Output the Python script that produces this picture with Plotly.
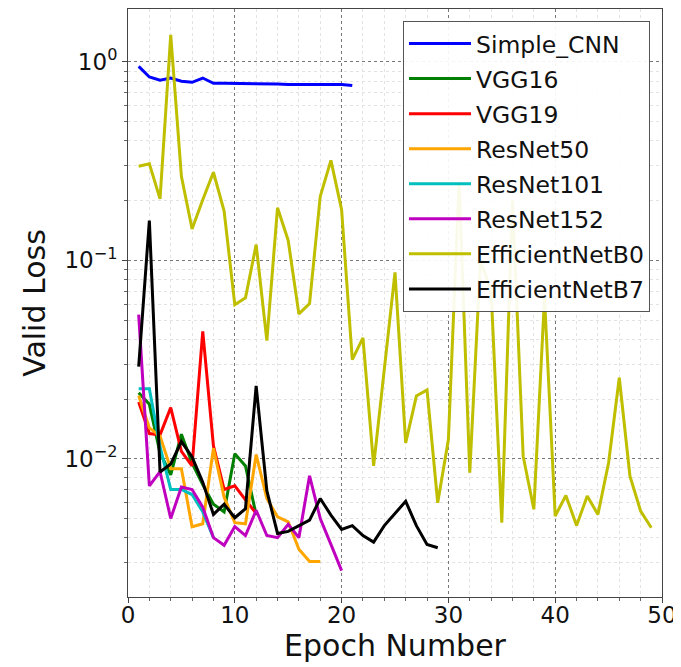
import plotly.graph_objects as go

simple_cnn = [0.95, 0.84, 0.81, 0.83, 0.80, 0.79, 0.83, 0.78, 0.78, 0.78, 0.78, 0.78,
              0.78, 0.775, 0.77, 0.77, 0.775, 0.775, 0.77, 0.77, 0.76]
vgg16 = [0.0215, 0.0188, 0.0107, 0.0083, 0.0133, 0.0095, 0.0074, 0.0059, 0.0054,
         0.0106, 0.0092, 0.0052]
vgg19 = [0.0193, 0.0134, 0.0132, 0.0181, 0.0109, 0.0092, 0.0439, 0.0116, 0.0070,
         0.0073, 0.0062, 0.0053]
resnet50 = [0.0208, 0.0143, 0.0130, 0.0089, 0.0089, 0.00454, 0.0047, 0.0113, 0.0064,
            0.00476, 0.0047, 0.0105, 0.0063, 0.0051, 0.0048, 0.0035, 0.00303, 0.00303]
resnet101 = [0.0225, 0.0225, 0.0115, 0.0070, 0.0070, 0.0066, 0.0054, 0.0040]
resnet152 = [0.0533, 0.0073, 0.0086, 0.0050, 0.0072, 0.0070, 0.0057, 0.0040, 0.00366,
             0.00455, 0.0041, 0.0055, 0.0041, 0.0040, 0.00467, 0.0040, 0.0082, 0.0050,
             0.0037, 0.00273]
effb0 = [0.298, 0.307, 0.204, 1.37, 0.265, 0.144, 0.202, 0.278, 0.177, 0.0598,
         0.0647, 0.120, 0.0394, 0.184, 0.126, 0.0537, 0.0606, 0.210, 0.319, 0.180,
         0.0316, 0.0407, 0.0092, 0.028, 0.087, 0.0120, 0.0207, 0.0222, 0.0060, 0.0125,
         0.25, 0.0085, 0.10, 0.07, 0.00476, 0.2, 0.0103, 0.00556, 0.065, 0.00514,
         0.00653, 0.00461, 0.00648, 0.00524, 0.00955, 0.0256, 0.00817, 0.00545, 0.00449]
effb7 = [0.0291, 0.1586, 0.00857, 0.0094, 0.0122, 0.0102, 0.0076, 0.00524, 0.0059,
         0.00504, 0.0056, 0.0233, 0.0069, 0.0042, 0.0043, 0.0046, 0.0049, 0.0063,
         0.0052, 0.0044, 0.0046, 0.0041, 0.0038, 0.0046, 0.0053, 0.0061, 0.0046,
         0.0037, 0.00356]

series = [
    ("Simple_CNN", simple_cnn, "#0000ff"),
    ("VGG16", vgg16, "#008000"),
    ("VGG19", vgg19, "#ff0000"),
    ("ResNet50", resnet50, "#ffa500"),
    ("ResNet101", resnet101, "#00bfbf"),
    ("ResNet152", resnet152, "#bf00bf"),
    ("EfficientNetB0", effb0, "#bfbf00"),
    ("EfficientNetB7", effb7, "#000000"),
]

x_ticks = [0, 10, 20, 30, 40, 50]
y_ticks = [1, 0.1, 0.01]
y_ticktext = ["10<sup>0</sup>", "10<sup>−1</sup>", "10<sup>−2</sup>"]

fig = go.Figure()
for name, vals, color in series:
    fig.add_trace(go.Scatter(
        x=list(range(1, len(vals) + 1)), y=vals, mode="lines", name=name,
        legendgroup=name, line=dict(color=color, width=3)))

y_minor = [m * 10 ** e for e in (-3, -2, -1, 0) for m in range(2, 10)]
# the page body adds an 8px margin, so the figure is sized to fit the window
fig.update_layout(
    width=673, height=659,
    margin=dict(l=120, r=19, t=1, b=70),
    paper_bgcolor="white", plot_bgcolor="white",
    font=dict(family="DejaVu Sans", color="#111"),
    showlegend=True,
    legend=dict(x=0.9775, y=0.98, xanchor="right", yanchor="top",
                bgcolor="rgba(255,255,255,0.92)", bordercolor="#555", borderwidth=1,
                font=dict(size=23.5, family="DejaVu Sans", color="#111"),
                itemwidth=62, tracegroupgap=1.5),
    xaxis=dict(
        range=[0, 50], tickvals=x_ticks, tickfont=dict(size=23), automargin=False,
        ticklabelstandoff=-8,
        title=dict(text="Epoch Number", font=dict(size=30), standoff=6),
        showline=True, linecolor="#444", mirror=True, linewidth=1,
        ticks="outside", ticklen=5, tickcolor="#444",
        showgrid=True, gridcolor="#777", griddash="dot", gridwidth=1,
        zeroline=False,
        minor=dict(tickvals=list(range(2, 50, 2)), showgrid=True, gridcolor="#e3e3e3",
                   gridwidth=1, ticks="outside", ticklen=3, tickcolor="#666"),
    ),
    yaxis=dict(
        type="log", range=[-2.697, 0.267], tickvals=y_ticks, ticktext=y_ticktext,
        tickfont=dict(size=23), automargin=False,
        title=dict(text="Valid Loss", font=dict(size=30), standoff=9),
        showline=True, linecolor="#444", mirror=True, linewidth=1,
        ticks="outside", ticklen=5, tickcolor="#444",
        showgrid=True, gridcolor="#777", griddash="dot", gridwidth=1,
        zeroline=False,
        minor=dict(tickvals=y_minor, showgrid=True, gridcolor="#e3e3e3",
                   gridwidth=1, ticks="outside", ticklen=3, tickcolor="#666"),
    ),
)

fig.write_html("out.html")
